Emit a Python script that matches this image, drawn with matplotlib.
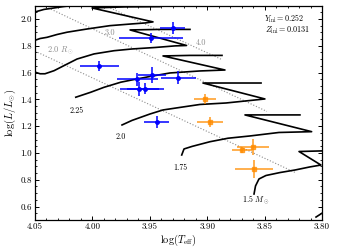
import numpy as np
import matplotlib
matplotlib.use("Agg")
import matplotlib.pyplot as plt
from matplotlib.ticker import MultipleLocator

plt.rcParams['font.family'] = 'serif'
plt.rcParams['font.serif'] = ['cmr10']
plt.rcParams['mathtext.fontset'] = 'cm'
plt.rcParams['axes.formatter.use_mathtext'] = True
plt.rcParams['axes.unicode_minus'] = False

# ---------------------- TRACKS (logTeff, logL) ----------------------
trk_30_T = [4.0544, 4.0509, 4.0422, 4.0334, 4.0247, 4.0160, 4.0056, 3.9969]
trk_30_L = [2.041, 2.050, 2.071, 2.082, 2.093, 2.101, 2.112, 2.119]

trk_275_T = [4.0509, 4.0456, 4.0395, 4.0308, 4.0221, 4.0047, 3.9847, 3.9655, 3.9542, 3.9472,
             4.0003, 3.9716, 3.9411]
trk_275_L = [1.838, 1.854, 1.863, 1.884, 1.901, 1.925, 1.950, 1.963, 1.970, 1.978,
             2.082, 2.090, 2.092]

trk_25_T = [4.0496, 4.0456, 4.0413, 4.0334, 4.0247, 4.0134, 3.9986, 3.9812, 3.9655, 3.9455,
            3.9280, 3.9180, 3.9672, 3.9411, 3.9150]
trk_25_L = [1.602, 1.591, 1.591, 1.614, 1.652, 1.701, 1.739, 1.763, 1.776, 1.787,
            1.799, 1.802, 1.918, 1.922, 1.922]

trk_225_T = [4.0145, 4.0015, 3.9899, 3.9753, 3.9655, 3.9498, 3.9324, 3.9063, 3.8845,
             3.9385, 3.9150, 3.8871]
trk_225_L = [1.416, 1.453, 1.490, 1.528, 1.545, 1.571, 1.597, 1.612, 1.619,
             1.724, 1.728, 1.728]

trk_20_T = [3.9742, 3.9655, 3.9498, 3.9385, 3.9237, 3.9063, 3.8836, 3.8497,
            3.9037, 3.8801, 3.8531]
trk_20_L = [1.209, 1.243, 1.291, 1.321, 1.340, 1.362, 1.373, 1.403,
            1.522, 1.522, 1.522]

trk_175_T = [3.9222, 3.9202, 3.9132, 3.8976, 3.8819, 3.8627, 3.8375, 3.8090,
             3.8671, 3.8192]
trk_175_L = [0.985, 1.030, 1.049, 1.084, 1.110, 1.127, 1.153, 1.159,
             1.284, 1.284]

trk_15_T = [3.8592, 3.8579, 3.8549, 3.8488, 3.8366, 3.8235, 3.8105, 3.8009,
            3.8200, 3.7843]
trk_15_L = [0.694, 0.754, 0.806, 0.832, 0.854, 0.873, 0.896, 0.910,
            1.011, 1.019]
trk_15_tail_T = [3.8052, 3.7983]
trk_15_tail_L = [0.522, 0.560]

tracks = [(trk_30_T, trk_30_L), (trk_275_T, trk_275_L), (trk_25_T, trk_25_L),
          (trk_225_T, trk_225_L), (trk_20_T, trk_20_L), (trk_175_T, trk_175_L),
          (trk_15_T, trk_15_L), (trk_15_tail_T, trk_15_tail_L)]

# constant radius lines (end points)
rad_labels = ['2.0', '3.0', '4.0']
rad_T = [[4.05, 3.8235], [4.05, 3.848], [3.989, 3.888]]
rad_L = [[1.760, 0.855], [2.129, 1.310], [2.100, 1.700]]

# ---------------------- STARS ----------------------
blue_T = [3.930, 3.949, 3.994, 3.961, 3.948, 3.925, 3.959, 3.954, 3.944]
blue_L = [1.933, 1.856, 1.652, 1.550, 1.582, 1.563, 1.474, 1.481, 1.234]
blue_Terr = [0.011, 0.028, 0.017, 0.018, 0.012, 0.015, 0.017, 0.016, 0.011]
blue_Lerr = [0.045, 0.037, 0.037, 0.050, 0.060, 0.045, 0.052, 0.040, 0.045]

orng_T = [3.9015, 3.8976, 3.870, 3.860, 3.859]
orng_L = [1.401, 1.228, 1.022, 1.043, 0.884]
orng_Terr = [0.0096, 0.011, 0.0087, 0.014, 0.0165]
orng_Lerr = [0.037, 0.037, 0.022, 0.060, 0.067]

# ---------------------- PLOT ----------------------
fig = plt.figure(figsize=(3.38, 2.52), dpi=100)
ax = fig.add_axes([0.1036, 0.127, 0.849, 0.851])

for T, L in zip(rad_T, rad_L):
    ax.plot(T, L, ls=':', color='0.55', lw=0.8, zorder=1)

for T, L in tracks:
    ax.plot(T, L, color='k', lw=1.2, zorder=2)

ax.errorbar(blue_T, blue_L, xerr=blue_Terr, yerr=blue_Lerr, fmt='o', color='blue',
            ms=2.5, lw=1.1, capsize=0, zorder=4)
ax.errorbar(orng_T, orng_L, xerr=orng_Terr, yerr=orng_Lerr, fmt='s', color='darkorange',
            ms=2.5, lw=1.3, alpha=0.75, capsize=0, zorder=3)

# labels
ax.text(4.0393, 1.769, r'2.0 $R_\odot$', color='0.55', fontsize=6, va='center', ha='left')
ax.text(3.9847, 1.893, '3.0', color='0.55', fontsize=6, va='center', ha='center')
ax.text(3.9051, 1.819, '4.0', color='0.55', fontsize=6, va='center', ha='center')

ax.text(4.0134, 1.316, '2.25', fontsize=5.8, ha='center', va='center')
ax.text(3.9749, 1.122, '2.0', fontsize=5.8, ha='center', va='center')
ax.text(3.9234, 0.886, '1.75', fontsize=5.8, ha='center', va='center')
ax.text(3.8575, 0.649, r'1.5 $M_\odot$', fontsize=5.8, ha='center', va='center')

ax.text(0.799, 0.940, r'$Y_{\rm ini}=0.252$', transform=ax.transAxes, fontsize=5.8, va='center')
ax.text(0.803, 0.886, r'$Z_{\rm ini}=0.0131$', transform=ax.transAxes, fontsize=5.8, va='center')

ax.set_xlim(4.05, 3.80)
ax.set_ylim(0.5, 2.1)
ax.set_xlabel(r'$\log(T_{\rm eff})$', fontsize=7.5, labelpad=1)
ax.set_ylabel(r'$\log(L/L_{\odot})$', fontsize=7.5, labelpad=2)

ax.xaxis.set_major_locator(MultipleLocator(0.05))
ax.xaxis.set_minor_locator(MultipleLocator(0.01))
ax.yaxis.set_major_locator(MultipleLocator(0.2))
ax.yaxis.set_minor_locator(MultipleLocator(0.05))
ax.tick_params(which='both', direction='in', top=True, right=True, labelsize=6.5, pad=2)
ax.tick_params(which='major', length=3, width=0.7)
ax.tick_params(which='minor', length=1.5, width=0.6)
ax.xaxis.set_major_formatter(plt.FormatStrFormatter('%.2f'))
ax.yaxis.set_major_formatter(plt.FormatStrFormatter('%.1f'))
for s in ax.spines.values():
    s.set_linewidth(0.9)

plt.savefig('out.png', dpi=100)
plt.close()
